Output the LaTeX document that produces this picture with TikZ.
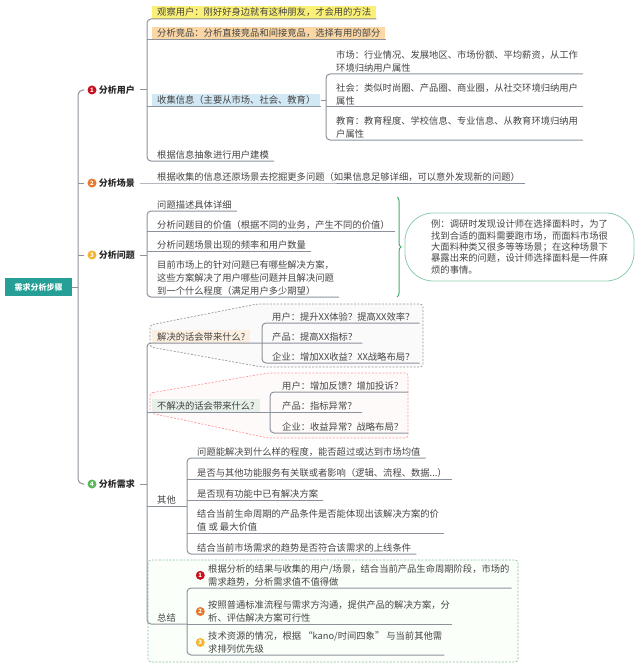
\documentclass[tikz,border=0pt]{standalone}
\usepackage{fontspec}
\setmainfont{Noto Sans CJK SC}
\usepackage{tikz}
\usetikzlibrary{positioning,decorations.pathreplacing}
\definecolor{lc}{RGB}{140,146,156}
\definecolor{tc}{RGB}{68,68,68}
\definecolor{hc}{RGB}{40,40,40}
\definecolor{rootc}{RGB}{38,160,150}
\definecolor{c1}{RGB}{200,16,30}
\definecolor{c2}{RGB}{232,120,48}
\definecolor{c3}{RGB}{245,180,50}
\definecolor{c4}{RGB}{92,184,92}
\definecolor{yc}{RGB}{250,240,120}
\definecolor{oc}{RGB}{250,215,165}
\definecolor{bc}{RGB}{210,232,245}
\definecolor{pc}{RGB}{252,238,224}
\definecolor{gc}{RGB}{230,239,232}
\definecolor{nc}{RGB}{140,205,170}
\definecolor{brc}{RGB}{70,170,110}
\newcommand{\leaffont}{\fontsize{9.3}{13}\selectfont}
\newcommand{\headfont}{\fontsize{9}{11}\selectfont\bfseries}
\newcommand{\notefont}{\fontsize{9.3}{11.3}\selectfont}
\tikzset{conn/.style={draw=lc, line width=1pt},leaf/.style={anchor=south west, inner xsep=5pt, inner ysep=1.5pt, align=left, text=tc, font=\leaffont},head/.style={inner sep=2pt, text=hc, font=\headfont}}
\tikzset{num/.style={circle, fill=#1, text=white, inner sep=0pt, minimum size=9pt, font=\fontsize{6}{6}\selectfont\bfseries},root/.style={fill=rootc, text=white, minimum width=67pt, minimum height=18pt, inner sep=0pt, font=\fontsize{8}{10}\selectfont\bfseries}}
\tikzset{bd/.style={dash pattern=on 2pt off 1.5pt, line width=0.7pt, rounded corners=3pt},note/.style={draw=nc, line width=0.8pt, rounded corners=28pt, minimum width=229pt, minimum height=68pt, align=left, text=tc, font=\notefont},ebrace/.style={draw=brc, line width=1pt, decorate, decoration={brace, amplitude=4pt}}}

\begin{document}
\begin{tikzpicture}[x=1pt,y=-1pt]
  \useasboundingbox (0,0) rectangle (640,666);
  % boundaries
  \draw[bd, draw=black!40, fill=black!2] (150,325) -- (257,304) -- (423,304) -- (423,367) -- (262,367) -- (150,347) -- cycle;
  \draw[bd, draw=red!40, fill=red!2] (150,393) -- (268,373) -- (408,373) -- (408,438) -- (268,438) -- (150,413) -- cycle;
  \draw[bd, draw=nc!80!gray, fill=green!2] (148,560) rectangle (518,662);

  \node[root] (r) at (38.5,287) {需求分析步骤};
  \coordinate (t) at (78,287);
  \coordinate (b1) at (147,0);
  \coordinate (b2) at (326,0);
  \coordinate (b3) at (262,0);
  \coordinate (b4) at (270,0);
  \coordinate (b5) at (187,0);

  \node[num=c1] (m1) at (92,90) {1};
  \node[head, right=0pt of m1] (h1) {分析用户};
  \node[num=c2] (m2) at (92,183) {2};
  \node[head, right=0pt of m2] (h2) {分析场景};
  \node[num=c3] (m3) at (92,255) {3};
  \node[head, right=0pt of m3] (h3) {分析问题};
  \node[num=c4] (m4) at (92,484) {4};
  \node[head, right=0pt of m4] (h4) {分析需求};

  % analyse users
  \node[leaf, fill=yc, inner ysep=2pt] (u1) at (152,19) {观察用户：刚好好身边就有这种朋友，才会用的方法};
  \node[leaf, fill=oc, inner ysep=2pt] (u2) at (152,40) {分析竞品：分析直接竞品和间接竞品，选择有用的部分};
  \node[leaf, fill=bc, inner ysep=2pt] (u3) at (152,107) {收集信息（主要从市场、社会、教育）};
  \node[leaf] (u4) at (152,161) {根据信息抽象进行用户建模};
  \node[leaf] (s1) at (331,74) {市场：行业情况、发展地区、市场份额、平均薪资，从工作\\环境归纳用户属性};
  \node[leaf] (s2) at (331,107) {社会：类似时尚圈、产品圈、商业圈，从社交环境归纳用户\\属性};
  \node[leaf] (s3) at (331,140) {教育：教育程度、学校信息、专业信息、从教育环境归纳用\\户属性};

  % scene
  \node[leaf] (c) at (152,183) {根据收集的信息还原场景去挖掘更多问题（如果信息足够详细，可以意外发现新的问题）};

  % problems
  \node[leaf] (p1) at (152,211) {问题描述具体详细};
  \node[leaf] (p2) at (152,231) {分析问题目的价值（根据不同的业务，产生不同的价值）};
  \node[leaf] (p3) at (152,251) {分析问题场景出现的频率和用户数量};
  \node[leaf] (p4) at (152,297) {目前市场上的针对问题已有哪些解决方案，\\这些方案解决了用户哪些问题并且解决问题\\到一个什么程度（满足用户多少期望）};
  \coordinate (bt) at (397,197);
  \coordinate (bb) at (397,297);
  \node[note] (ex) at (519.5,247) {例：调研时发现设计师在选择面料时，为了\\找到合适的面料需要跑市场，而面料市场很\\大面料种类又很多等等场景；在这种场景下\\暴露出来的问题，设计师选择面料是一件麻\\烦的事情。};

  % needs
  \node[leaf, fill=pc, inner ysep=2pt] (n1) at (152,343) {解决的话会带来什么?};
  \node[leaf] (n1a) at (267,323) {用户：提升XX体验？提高XX效率？};
  \node[leaf] (n1b) at (267,343) {产品：提高XX指标？};
  \node[leaf] (n1c) at (267,363) {企业：增加XX收益？XX战略布局？};
  \node[leaf, fill=gc, inner ysep=2pt] (n2) at (152,412) {不解决的话会带来什么?};
  \node[leaf] (n2a) at (277,392) {用户：增加反馈？增加投诉？};
  \node[leaf] (n2b) at (277,412) {产品：指标异常？};
  \node[leaf] (n2c) at (277,433) {企业：收益异常？战略布局？};
  \node[leaf] (n3) at (152,506) {其他};
  \node[leaf] (o1) at (192,458) {问题能解决到什么样的程度，能否超过或达到市场均值};
  \node[leaf] (o2) at (192,479) {是否与其他功能服务有关联或者影响（逻辑、流程、数据...）};
  \node[leaf] (o3) at (192,500) {是否现有功能中已有解决方案};
  \node[leaf] (o4) at (192,533) {结合当前生命周期的产品条件是否能体现出该解决方案的价\\值 或 最大价值};
  \node[leaf] (o5) at (192,554) {结合当前市场需求的趋势是否符合该需求的上线条件};
  \node[leaf] (n4) at (152,624) {总结};
  \node[leaf, inner xsep=2pt] (z1) at (206,588) {根据分析的结果与收集的用户/场景，结合当前产品生命周期阶段，市场的\\需求趋势，分析需求值不值得做};
  \node[leaf, inner xsep=2pt] (z2) at (206,624) {按照普通标准流程与需求方沟通，提供产品的解决方案，分\\析、评估解决方案可行性};
  \node[leaf, inner xsep=2pt] (z3) at (206,655) {技术资源的情况，根据 “kano/时间四象” 与当前其他需\\求排列优先级};
  \node[num=c1, left=1pt of z1] (k1) {1};
  \node[num=c2, left=1pt of z2] (k2) {2};
  \node[num=c3, left=1pt of z3] (k3) {3};

  % connectors
  \draw[conn] (r.east) -- (t);
  \draw[conn, rounded corners=5, shorten <=3pt, shorten >=3pt] (m1.west) -- (m1.west -| t) |- (m4.west);
  \draw[conn, shorten <=3pt] (m2.west) -- (m2.west -| t);
  \draw[conn, shorten <=3pt] (m3.west) -- (m3.west -| t);
  \draw[conn, shorten <=2.5pt] (h1.east) -- (h1.east -| b1);
  \draw[conn, shorten <=2.5pt] (h2.east) -- (c.south west) -- (c.south east);
  \draw[conn, shorten <=2.5pt] (h3.east) -- (h3.east -| b1);
  \draw[conn, shorten <=2.5pt] (h4.east) -- (h4.east -| b1);
  \draw[conn, rounded corners=4] (u1.south east) -- (u1.south -| b1) |- (u4.south east);
  \draw[conn] (u2.south east) -- (u2.south -| b1) (u3.south east) -- (u3.south -| b1);
  \draw[conn] (u3.east) -- (u3.east -| b2);
  \draw[conn, rounded corners=4] (s1.south east) -- (s1.south -| b2) |- (s3.south east);
  \draw[conn] (s2.south east) -- (s2.south -| b2);
  \draw[conn, rounded corners=4] (p1.south east) -- (p1.south -| b1) |- (p4.south east);
  \draw[conn] (p2.south east) -- (p2.south -| b1) (p3.south east) -- (p3.south -| b1);
  \draw[ebrace] (bt) -- (bb);
  \draw[conn, rounded corners=4] (n1b.south east) -- (n1.south -| b1) |- (n4.south -| b5);
  \draw[conn, rounded corners=4] (n1a.south east) -- (n1a.south -| b3) |- (n1c.south east);
  \draw[conn] (n2.south -| b1) -- (n2b.south east);
  \draw[conn, rounded corners=4] (n2a.south east) -- (n2a.south -| b4) |- (n2c.south east);
  \draw[conn] (n3.south -| b1) -- (n3.south -| b5);
  \draw[conn, rounded corners=4] (o1.south east) -- (o1.south -| b5) |- (o5.south east);
  \draw[conn] (o2.south east) -- (o2.south -| b5) (o3.south east) -- (o3.south -| b5) (o4.south east) -- (o4.south -| b5);
  \draw[conn, rounded corners=4] (z1.south east) -- (z1.south -| b5) |- (z3.south east);
  \draw[conn] (z2.south east) -- (z2.south -| b5);
\end{tikzpicture}
\end{document}
